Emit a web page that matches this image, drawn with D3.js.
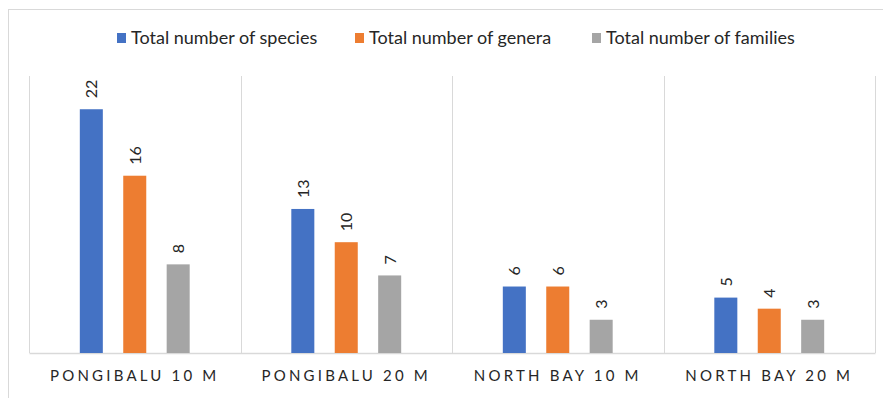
<!DOCTYPE html>
<html>
<head>
<meta charset="utf-8">
<script src="https://cdn.jsdelivr.net/npm/d3@7/dist/d3.min.js"></script>
<style>
  body { margin: 0; background: #fff; }
  svg text { font-family: Lato, "Open Sans", sans-serif; fill: #262626; }
</style>
</head>
<body>
<svg id="chart" width="883" height="398"></svg>
<script>
const categories = ["PONGIBALU 10 M", "PONGIBALU 20 M", "NORTH BAY 10 M", "NORTH BAY 20 M"];
const seriesNames = ["Total number of species", "Total number of genera", "Total number of families"];
const species = [22, 13, 6, 5];
const genera = [16, 10, 6, 4];
const families = [8, 7, 3, 3];
const colors = ["#4472c4", "#ed7d31", "#a5a5a5"];

const seriesValues = [species, genera, families];

const svg = d3.select("#chart");
const margin = { left: 29, right: 875, top: 76, bottom: 353 };

// outer frame
svg.append("rect")
  .attr("x", 8.5).attr("y", 9.5)
  .attr("width", 883).attr("height", 400)
  .attr("fill", "none").attr("stroke", "#d9d9d9");

const x0 = d3.scaleBand().domain(categories).range([margin.left, margin.right]).padding(0);
const x1 = d3.scaleBand().domain(d3.range(seriesNames.length))
  .range([0, x0.bandwidth()]).paddingInner(0.47).paddingOuter(1.17);
const y = d3.scaleLinear().domain([0, 25]).range([margin.bottom, margin.top]);

// vertical separators between categories
const seps = categories.map(c => x0(c)).concat([margin.right]);
svg.append("g").selectAll("line").data(seps).join("line")
  .attr("x1", d => Math.round(d) + 0.5).attr("x2", d => Math.round(d) + 0.5)
  .attr("y1", margin.top).attr("y2", margin.bottom)
  .attr("stroke", "#d9d9d9").attr("stroke-width", 1);

// baseline axis
const xAxis = d3.axisBottom(x0).tickSize(0).tickPadding(17);
const ax = svg.append("g").attr("transform", `translate(0,${margin.bottom})`).call(xAxis);
ax.select(".domain").attr("stroke", "#d9d9d9").attr("stroke-width", 1.5);
ax.selectAll("text")
  .style("font-size", "15px")
  .style("letter-spacing", "3.2px")
  .attr("fill", "#262626")
  .style("font-family", "Lato, 'Open Sans', sans-serif");

// bars
const groups = svg.append("g").selectAll("g").data(categories).join("g")
  .attr("transform", d => `translate(${x0(d)},0)`);

groups.each(function (cat, ci) {
  const g = d3.select(this);
  const vals = seriesValues.map((s, si) => ({ si, v: s[ci] }));
  g.selectAll("rect").data(vals).join("rect")
    .attr("x", d => x1(d.si))
    .attr("width", x1.bandwidth())
    .attr("y", d => y(d.v))
    .attr("height", d => y(0) - y(d.v))
    .attr("fill", d => colors[d.si]);
  g.selectAll("text.val").data(vals).join("text")
    .attr("class", "val")
    .attr("transform", d => `translate(${x1(d.si) + x1.bandwidth() / 2 + 6},${y(d.v) - 11}) rotate(-90)`)
    .attr("text-anchor", "start")
    .style("font-size", "16px")
    .text(d => d.v);
});

// legend
const legendX = [117, 355, 592];
const legend = svg.append("g").selectAll("g").data(seriesNames).join("g")
  .attr("transform", (d, i) => `translate(${legendX[i]},38)`);
legend.append("rect").attr("x", 0).attr("y", -5).attr("width", 9).attr("height", 10)
  .attr("fill", (d, i) => colors[i]);
legend.append("text").attr("x", 14).attr("y", 0).attr("dy", "0.35em")
  .style("font-size", "18px").text(d => d);
</script>
</body>
</html>
